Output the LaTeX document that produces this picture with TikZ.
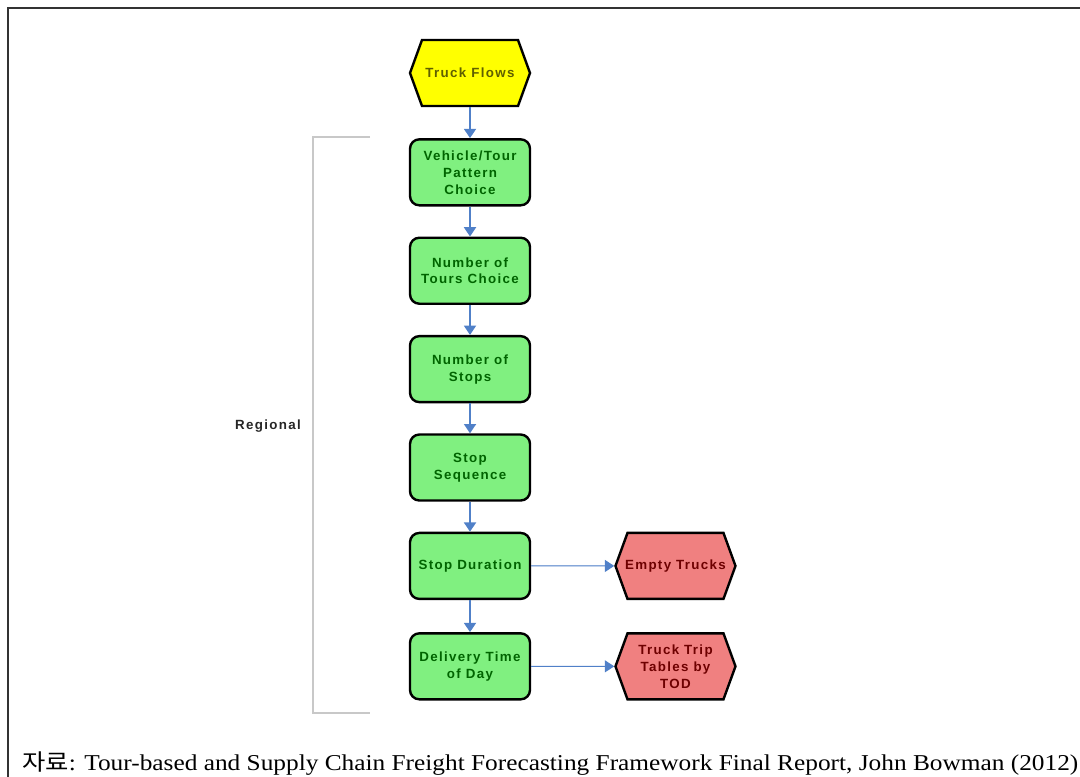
\documentclass[tikz,border=0pt]{standalone}
\usepackage{fontspec}
\usepackage{graphicx}
\setmainfont{Liberation Serif}
\newfontfamily\boxfont[LetterSpace=10]{Liberation Sans}
\newfontfamily\krfont{Noto Sans CJK KR}
\usepackage{tikz}
\usetikzlibrary{arrows.meta,positioning,shapes.symbols}
\definecolor{boxgreen}{RGB}{128,240,128}
\definecolor{txtgreen}{RGB}{0,100,0}
\definecolor{hexyellow}{RGB}{255,255,0}
\definecolor{txtolive}{RGB}{95,95,0}
\definecolor{hexred}{RGB}{240,128,128}
\definecolor{txtred}{RGB}{110,0,0}
\definecolor{arrowblue}{RGB}{80,128,200}
\definecolor{brackgray}{RGB}{200,200,200}

\begin{document}
\begin{tikzpicture}[x=0.75pt, y=-0.75pt,
  every node/.style={font=\boxfont\bfseries\fontsize{10}{12.75}\selectfont},
  proc/.style={draw, line width=1.8pt, rounded corners=7pt, fill=boxgreen,
               text=txtgreen, minimum width=90pt, minimum height=49.5pt,
               align=center, inner sep=2pt},
  hexa/.style={signal, signal to=east and west, signal pointer angle=140,
               draw, line width=1.8pt, minimum width=90pt,
               minimum height=49.5pt, align=center, inner sep=2pt},
  flow/.style={-{Triangle[length=7pt,width=9pt]}, line width=1.4pt,
               draw=arrowblue, fill=arrowblue},
  side/.style={flow, line width=0.8pt}]
  \useasboundingbox (0,0) rectangle (1080,777);
  \draw[line width=1.5pt, black!80] (1080,8) -- (7.5,8) -- (7.5,777);

  % main chain
  \node[hexa, fill=hexyellow, text=txtolive] (flows) at (470,73) {Truck Flows};
  \node[proc, below=23.2pt of flows] (pattern) {Vehicle/Tour\\Pattern\\Choice};
  \node[proc, below=22.5pt of pattern] (ntours) {Number of\\Tours Choice};
  \node[proc, below=22.5pt of ntours] (nstops) {Number of\\Stops};
  \node[proc, below=22.5pt of nstops] (seq) {Stop\\Sequence};
  \node[proc, below=22.5pt of seq] (dur) {Stop Duration};
  \node[proc, below=24pt of dur] (tod) {Delivery Time\\of Day};

  % outputs
  \node[hexa, fill=hexred, text=txtred, inner xsep=-5pt,
        right=62.25pt of dur] (empty) {Empty Trucks};
  \node[hexa, fill=hexred, text=txtred, right=62.25pt of tod] (tables)
    {Truck Trip\\Tables by\\TOD};

  \draw[flow] (flows) -- (pattern);
  \draw[flow] (pattern) -- (ntours);
  \draw[flow] (ntours) -- (nstops);
  \draw[flow] (nstops) -- (seq);
  \draw[flow] (seq) -- (dur);
  \draw[flow] (dur) -- (tod);
  \draw[side] (dur) -- (empty);
  \draw[side] (tod) -- (tables);

  % regional bracket
  \draw[brackgray, line width=1pt] (370,137) -- (313,137) -- (313,713)
    -- (370,713);
  \node[text=black!85, font=\boxfont\bfseries\fontsize{10}{12}\selectfont]
    (regional) at (268,426) {Regional};

  \node[anchor=base west, inner sep=0pt,
        font=\rmfamily\fontsize{17}{20}\selectfont] (source) at (22,770)
    {\resizebox{792pt}{\height}{{\krfont 자료}: Tour-based and Supply Chain
     Freight Forecasting Framework Final Report, John Bowman (2012)}};
\end{tikzpicture}
\end{document}
